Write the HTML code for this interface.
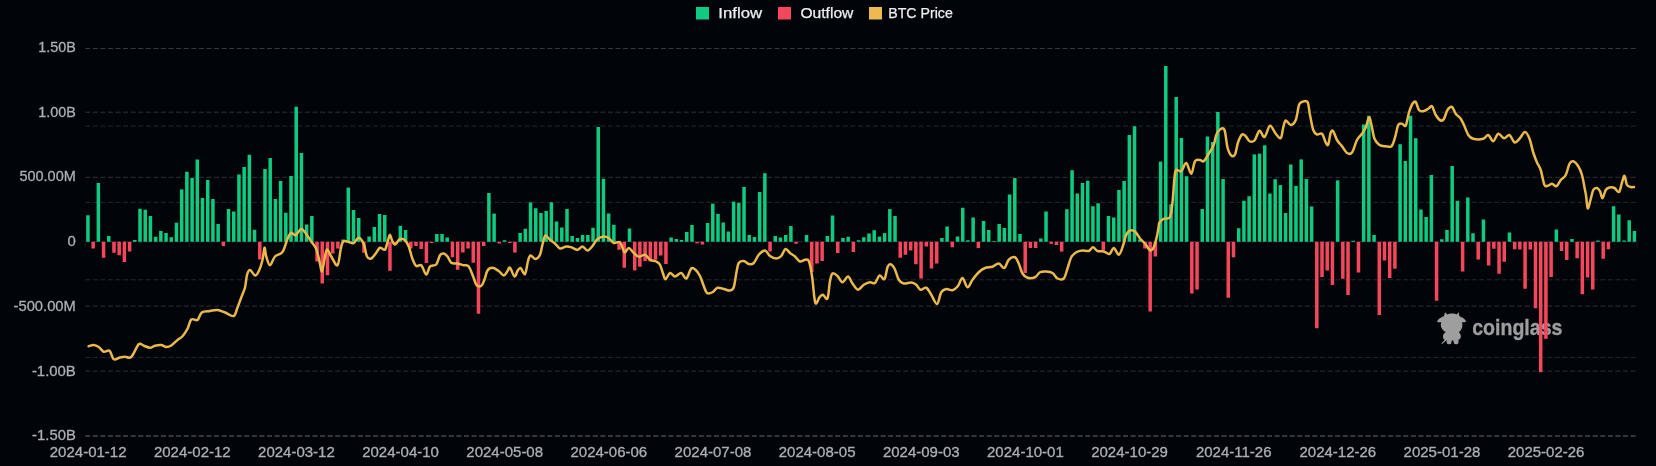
<!DOCTYPE html>
<html><head><meta charset="utf-8"><title>ETF Flows</title>
<style>
html,body{margin:0;padding:0;background:#010409;}
body{width:1656px;height:466px;overflow:hidden;font-family:"Liberation Sans",sans-serif;}
svg{display:block;will-change:transform}
text{font-family:"Liberation Sans",sans-serif;}
</style></head><body>
<svg width="1656" height="466" viewBox="0 0 1656 466">
<g stroke="#2d3137" stroke-width="1" stroke-dasharray="5.05 2.5255" fill="none">
<path d="M85.2 48.50H1635.7" stroke="#363a40"/>
<path d="M85.2 112.20H1635.7"/>
<path d="M85.2 177.30H1635.7"/>
<path d="M85.2 241.80H1635.7"/>
<path d="M85.2 306.10H1635.7"/>
<path d="M85.2 371.10H1635.7"/>
<path d="M85.2 435.90H1635.7" stroke="#33373c" stroke-width="2"/>
<path d="M85.2 126.10H1635.7" stroke="#24282d"/>
<path d="M85.2 202.30H1635.7" stroke="#24282d"/>
<path d="M85.2 279.80H1635.7" stroke="#24282d"/>
<path d="M85.2 357.40H1635.7" stroke="#24282d"/>
</g>
<g stroke="#11151b" stroke-width="1.5">
<path d="M85.40 241.8V247"/>
<path d="M189.54 241.8V247"/>
<path d="M293.68 241.8V247"/>
<path d="M397.82 241.8V247"/>
<path d="M501.96 241.8V247"/>
<path d="M606.10 241.8V247"/>
<path d="M710.24 241.8V247"/>
<path d="M814.38 241.8V247"/>
<path d="M918.52 241.8V247"/>
<path d="M1022.66 241.8V247"/>
<path d="M1126.80 241.8V247"/>
<path d="M1230.94 241.8V247"/>
<path d="M1335.08 241.8V247"/>
<path d="M1439.22 241.8V247"/>
<path d="M1543.36 241.8V247"/>
<path d="M1636.70 241.8V247"/>
</g>
<g id="wm" fill="#a0a0a0" opacity="0.99">
<text x="1472.2" y="334.8" font-size="22.3" font-weight="bold" stroke="#a0a0a0" stroke-width="0.35" stroke-linejoin="round" textLength="90.2" lengthAdjust="spacingAndGlyphs">coinglass</text>
<g transform="translate(1430,306) scale(0.08584)">
<path d="M175 72 L203 98 C230 84 290 84 312 98 L332 70 L343 118 C370 128 395 142 408 160 C420 172 422 190 408 190 L372 190 C385 232 375 275 335 305 C355 318 365 345 356 372 C352 384 342 388 334 386 L330 436 C320 448 290 448 280 440 L272 402 L254 402 L246 440 C236 448 206 448 196 436 L192 398 L150 436 L130 446 L140 428 L172 396 C158 390 148 370 152 345 C155 325 170 312 184 306 C140 280 112 236 132 190 L94 190 C78 190 82 172 95 160 C112 142 138 128 162 120 Z"/>
</g>
</g>
<g fill="#0ecb81">
<rect x="86.20" y="215.25" width="3.5" height="26.50"/>
<rect x="96.61" y="183.00" width="3.5" height="58.75"/>
<rect x="107.03" y="236.00" width="3.5" height="5.75"/>
<rect x="133.06" y="240.00" width="3.5" height="1.75"/>
<rect x="138.27" y="208.75" width="3.5" height="33.00"/>
<rect x="143.48" y="209.75" width="3.5" height="32.00"/>
<rect x="148.68" y="216.00" width="3.5" height="25.75"/>
<rect x="153.89" y="236.75" width="3.5" height="5.00"/>
<rect x="159.10" y="231.00" width="3.5" height="10.75"/>
<rect x="164.31" y="233.00" width="3.5" height="8.75"/>
<rect x="169.51" y="237.25" width="3.5" height="4.50"/>
<rect x="174.72" y="222.75" width="3.5" height="19.00"/>
<rect x="179.93" y="189.40" width="3.5" height="52.35"/>
<rect x="185.13" y="171.75" width="3.5" height="70.00"/>
<rect x="190.34" y="178.00" width="3.5" height="63.75"/>
<rect x="195.55" y="159.50" width="3.5" height="82.25"/>
<rect x="200.75" y="198.00" width="3.5" height="43.75"/>
<rect x="205.96" y="180.00" width="3.5" height="61.75"/>
<rect x="211.17" y="199.00" width="3.5" height="42.75"/>
<rect x="216.38" y="224.00" width="3.5" height="17.75"/>
<rect x="226.79" y="209.00" width="3.5" height="32.75"/>
<rect x="232.00" y="211.50" width="3.5" height="30.25"/>
<rect x="237.20" y="174.50" width="3.5" height="67.25"/>
<rect x="242.41" y="167.00" width="3.5" height="74.75"/>
<rect x="247.62" y="154.75" width="3.5" height="87.00"/>
<rect x="252.82" y="229.75" width="3.5" height="12.00"/>
<rect x="263.24" y="169.00" width="3.5" height="72.75"/>
<rect x="268.44" y="158.00" width="3.5" height="83.75"/>
<rect x="273.65" y="199.00" width="3.5" height="42.75"/>
<rect x="278.86" y="181.00" width="3.5" height="60.75"/>
<rect x="284.07" y="212.75" width="3.5" height="29.00"/>
<rect x="289.27" y="176.00" width="3.5" height="65.75"/>
<rect x="294.48" y="106.75" width="3.5" height="135.00"/>
<rect x="299.69" y="153.00" width="3.5" height="88.75"/>
<rect x="304.89" y="224.50" width="3.5" height="17.25"/>
<rect x="310.10" y="216.00" width="3.5" height="25.75"/>
<rect x="341.34" y="239.50" width="3.5" height="2.25"/>
<rect x="346.55" y="187.60" width="3.5" height="54.15"/>
<rect x="351.76" y="210.00" width="3.5" height="31.75"/>
<rect x="356.96" y="218.00" width="3.5" height="23.75"/>
<rect x="367.38" y="236.50" width="3.5" height="5.25"/>
<rect x="372.58" y="227.00" width="3.5" height="14.75"/>
<rect x="377.79" y="214.00" width="3.5" height="27.75"/>
<rect x="383.00" y="215.00" width="3.5" height="26.75"/>
<rect x="398.62" y="225.75" width="3.5" height="16.00"/>
<rect x="403.83" y="230.00" width="3.5" height="11.75"/>
<rect x="435.07" y="234.00" width="3.5" height="7.75"/>
<rect x="440.28" y="234.00" width="3.5" height="7.75"/>
<rect x="445.48" y="237.50" width="3.5" height="4.25"/>
<rect x="487.14" y="193.00" width="3.5" height="48.75"/>
<rect x="492.35" y="213.60" width="3.5" height="28.15"/>
<rect x="502.76" y="240.25" width="3.5" height="1.50"/>
<rect x="518.38" y="233.00" width="3.5" height="8.75"/>
<rect x="523.59" y="228.75" width="3.5" height="13.00"/>
<rect x="528.79" y="202.40" width="3.5" height="39.35"/>
<rect x="534.00" y="208.25" width="3.5" height="33.50"/>
<rect x="539.21" y="213.00" width="3.5" height="28.75"/>
<rect x="544.42" y="211.00" width="3.5" height="30.75"/>
<rect x="549.62" y="202.25" width="3.5" height="39.50"/>
<rect x="554.83" y="221.50" width="3.5" height="20.25"/>
<rect x="560.04" y="227.50" width="3.5" height="14.25"/>
<rect x="565.24" y="209.00" width="3.5" height="32.75"/>
<rect x="570.45" y="236.00" width="3.5" height="5.75"/>
<rect x="575.66" y="238.00" width="3.5" height="3.75"/>
<rect x="580.87" y="235.00" width="3.5" height="6.75"/>
<rect x="586.07" y="235.00" width="3.5" height="6.75"/>
<rect x="591.28" y="227.75" width="3.5" height="14.00"/>
<rect x="596.49" y="127.00" width="3.5" height="114.75"/>
<rect x="601.69" y="178.75" width="3.5" height="63.00"/>
<rect x="606.90" y="213.50" width="3.5" height="28.25"/>
<rect x="612.11" y="224.75" width="3.5" height="17.00"/>
<rect x="627.73" y="228.50" width="3.5" height="13.25"/>
<rect x="669.38" y="237.50" width="3.5" height="4.25"/>
<rect x="674.59" y="239.00" width="3.5" height="2.75"/>
<rect x="679.80" y="240.00" width="3.5" height="1.75"/>
<rect x="685.00" y="232.00" width="3.5" height="9.75"/>
<rect x="690.21" y="225.00" width="3.5" height="16.75"/>
<rect x="705.83" y="223.00" width="3.5" height="18.75"/>
<rect x="711.04" y="203.60" width="3.5" height="38.15"/>
<rect x="716.25" y="213.90" width="3.5" height="27.85"/>
<rect x="721.45" y="222.50" width="3.5" height="19.25"/>
<rect x="726.66" y="231.50" width="3.5" height="10.25"/>
<rect x="731.87" y="201.60" width="3.5" height="40.15"/>
<rect x="737.08" y="202.90" width="3.5" height="38.85"/>
<rect x="742.28" y="187.00" width="3.5" height="54.75"/>
<rect x="747.49" y="235.00" width="3.5" height="6.75"/>
<rect x="752.70" y="237.00" width="3.5" height="4.75"/>
<rect x="757.90" y="192.00" width="3.5" height="49.75"/>
<rect x="763.11" y="173.25" width="3.5" height="68.50"/>
<rect x="773.52" y="236.00" width="3.5" height="5.75"/>
<rect x="778.73" y="237.50" width="3.5" height="4.25"/>
<rect x="783.94" y="235.00" width="3.5" height="6.75"/>
<rect x="789.14" y="226.00" width="3.5" height="15.75"/>
<rect x="804.77" y="235.00" width="3.5" height="6.75"/>
<rect x="825.59" y="236.00" width="3.5" height="5.75"/>
<rect x="830.80" y="215.50" width="3.5" height="26.25"/>
<rect x="841.22" y="238.00" width="3.5" height="3.75"/>
<rect x="846.42" y="236.75" width="3.5" height="5.00"/>
<rect x="856.84" y="240.25" width="3.5" height="1.50"/>
<rect x="862.04" y="237.25" width="3.5" height="4.50"/>
<rect x="867.25" y="233.50" width="3.5" height="8.25"/>
<rect x="872.46" y="230.25" width="3.5" height="11.50"/>
<rect x="877.66" y="236.60" width="3.5" height="5.15"/>
<rect x="882.87" y="233.10" width="3.5" height="8.65"/>
<rect x="888.08" y="209.10" width="3.5" height="32.65"/>
<rect x="893.28" y="216.00" width="3.5" height="25.75"/>
<rect x="940.15" y="238.00" width="3.5" height="3.75"/>
<rect x="945.36" y="226.50" width="3.5" height="15.25"/>
<rect x="955.77" y="236.50" width="3.5" height="5.25"/>
<rect x="960.98" y="207.75" width="3.5" height="34.00"/>
<rect x="966.18" y="240.25" width="3.5" height="1.50"/>
<rect x="971.39" y="217.50" width="3.5" height="24.25"/>
<rect x="981.80" y="221.00" width="3.5" height="20.75"/>
<rect x="987.01" y="230.00" width="3.5" height="11.75"/>
<rect x="992.22" y="241.00" width="3.5" height="0.75"/>
<rect x="997.43" y="224.00" width="3.5" height="17.75"/>
<rect x="1002.63" y="228.00" width="3.5" height="13.75"/>
<rect x="1007.84" y="194.50" width="3.5" height="47.25"/>
<rect x="1013.05" y="178.00" width="3.5" height="63.75"/>
<rect x="1018.25" y="234.00" width="3.5" height="7.75"/>
<rect x="1039.08" y="238.50" width="3.5" height="3.25"/>
<rect x="1044.29" y="211.50" width="3.5" height="30.25"/>
<rect x="1065.12" y="209.25" width="3.5" height="32.50"/>
<rect x="1070.32" y="170.25" width="3.5" height="71.50"/>
<rect x="1075.53" y="193.50" width="3.5" height="48.25"/>
<rect x="1080.74" y="183.00" width="3.5" height="58.75"/>
<rect x="1085.94" y="180.75" width="3.5" height="61.00"/>
<rect x="1091.15" y="206.25" width="3.5" height="35.50"/>
<rect x="1096.36" y="203.25" width="3.5" height="38.50"/>
<rect x="1106.77" y="216.00" width="3.5" height="25.75"/>
<rect x="1111.98" y="217.50" width="3.5" height="24.25"/>
<rect x="1117.19" y="190.00" width="3.5" height="51.75"/>
<rect x="1122.39" y="181.00" width="3.5" height="60.75"/>
<rect x="1127.60" y="135.00" width="3.5" height="106.75"/>
<rect x="1132.81" y="126.25" width="3.5" height="115.50"/>
<rect x="1138.01" y="239.50" width="3.5" height="2.25"/>
<rect x="1158.84" y="161.60" width="3.5" height="80.15"/>
<rect x="1164.05" y="66.00" width="3.5" height="175.75"/>
<rect x="1169.26" y="204.25" width="3.5" height="37.50"/>
<rect x="1174.46" y="97.00" width="3.5" height="144.75"/>
<rect x="1179.67" y="138.00" width="3.5" height="103.75"/>
<rect x="1184.88" y="176.25" width="3.5" height="65.50"/>
<rect x="1200.50" y="209.00" width="3.5" height="32.75"/>
<rect x="1205.70" y="136.50" width="3.5" height="105.25"/>
<rect x="1210.91" y="142.00" width="3.5" height="99.75"/>
<rect x="1216.12" y="112.00" width="3.5" height="129.75"/>
<rect x="1221.33" y="179.00" width="3.5" height="62.75"/>
<rect x="1236.95" y="228.25" width="3.5" height="13.50"/>
<rect x="1242.15" y="200.75" width="3.5" height="41.00"/>
<rect x="1247.36" y="196.25" width="3.5" height="45.50"/>
<rect x="1252.57" y="154.40" width="3.5" height="87.35"/>
<rect x="1257.78" y="153.60" width="3.5" height="88.15"/>
<rect x="1262.98" y="145.30" width="3.5" height="96.45"/>
<rect x="1268.19" y="193.50" width="3.5" height="48.25"/>
<rect x="1273.40" y="179.25" width="3.5" height="62.50"/>
<rect x="1278.60" y="185.10" width="3.5" height="56.65"/>
<rect x="1283.81" y="213.00" width="3.5" height="28.75"/>
<rect x="1289.02" y="164.50" width="3.5" height="77.25"/>
<rect x="1294.22" y="186.00" width="3.5" height="55.75"/>
<rect x="1299.43" y="159.40" width="3.5" height="82.35"/>
<rect x="1304.64" y="179.00" width="3.5" height="62.75"/>
<rect x="1309.85" y="206.50" width="3.5" height="35.25"/>
<rect x="1335.88" y="180.40" width="3.5" height="61.35"/>
<rect x="1351.50" y="240.75" width="3.5" height="1.00"/>
<rect x="1361.91" y="124.50" width="3.5" height="117.25"/>
<rect x="1367.12" y="115.75" width="3.5" height="126.00"/>
<rect x="1372.33" y="235.00" width="3.5" height="6.75"/>
<rect x="1398.36" y="144.25" width="3.5" height="97.50"/>
<rect x="1403.57" y="161.00" width="3.5" height="80.75"/>
<rect x="1408.78" y="115.75" width="3.5" height="126.00"/>
<rect x="1413.98" y="138.25" width="3.5" height="103.50"/>
<rect x="1419.19" y="209.50" width="3.5" height="32.25"/>
<rect x="1424.40" y="217.00" width="3.5" height="24.75"/>
<rect x="1429.61" y="175.00" width="3.5" height="66.75"/>
<rect x="1440.02" y="239.25" width="3.5" height="2.50"/>
<rect x="1445.23" y="230.00" width="3.5" height="11.75"/>
<rect x="1450.43" y="166.00" width="3.5" height="75.75"/>
<rect x="1455.64" y="200.75" width="3.5" height="41.00"/>
<rect x="1466.06" y="197.50" width="3.5" height="44.25"/>
<rect x="1471.26" y="233.25" width="3.5" height="8.50"/>
<rect x="1481.68" y="219.50" width="3.5" height="22.25"/>
<rect x="1507.71" y="232.50" width="3.5" height="9.25"/>
<rect x="1554.57" y="229.50" width="3.5" height="12.25"/>
<rect x="1570.19" y="239.00" width="3.5" height="2.75"/>
<rect x="1596.23" y="240.50" width="3.5" height="1.25"/>
<rect x="1611.85" y="206.25" width="3.5" height="35.50"/>
<rect x="1617.06" y="214.50" width="3.5" height="27.25"/>
<rect x="1622.27" y="240.50" width="3.5" height="1.25"/>
<rect x="1627.47" y="220.25" width="3.5" height="21.50"/>
<rect x="1632.68" y="231.00" width="3.5" height="10.75"/>
</g>
<g fill="#f6465d">
<rect x="91.41" y="241.75" width="3.5" height="6.75"/>
<rect x="101.82" y="241.75" width="3.5" height="16.00"/>
<rect x="112.23" y="241.75" width="3.5" height="11.00"/>
<rect x="117.44" y="241.75" width="3.5" height="13.50"/>
<rect x="122.65" y="241.75" width="3.5" height="20.25"/>
<rect x="127.86" y="241.75" width="3.5" height="9.75"/>
<rect x="221.58" y="241.75" width="3.5" height="4.25"/>
<rect x="258.03" y="241.75" width="3.5" height="17.75"/>
<rect x="315.31" y="241.75" width="3.5" height="19.75"/>
<rect x="320.51" y="241.75" width="3.5" height="41.75"/>
<rect x="325.72" y="241.75" width="3.5" height="33.50"/>
<rect x="330.93" y="241.75" width="3.5" height="11.75"/>
<rect x="336.14" y="241.75" width="3.5" height="6.75"/>
<rect x="362.17" y="241.75" width="3.5" height="11.00"/>
<rect x="388.21" y="241.75" width="3.5" height="29.00"/>
<rect x="393.41" y="241.75" width="3.5" height="2.25"/>
<rect x="409.03" y="241.75" width="3.5" height="6.75"/>
<rect x="414.24" y="241.75" width="3.5" height="4.25"/>
<rect x="419.45" y="241.75" width="3.5" height="7.25"/>
<rect x="424.65" y="241.75" width="3.5" height="21.25"/>
<rect x="429.86" y="241.75" width="3.5" height="1.25"/>
<rect x="450.69" y="241.75" width="3.5" height="15.50"/>
<rect x="455.90" y="241.75" width="3.5" height="28.00"/>
<rect x="461.10" y="241.75" width="3.5" height="10.75"/>
<rect x="466.31" y="241.75" width="3.5" height="6.75"/>
<rect x="471.52" y="241.75" width="3.5" height="21.00"/>
<rect x="476.72" y="241.75" width="3.5" height="72.00"/>
<rect x="481.93" y="241.75" width="3.5" height="4.25"/>
<rect x="497.55" y="241.75" width="3.5" height="1.75"/>
<rect x="507.97" y="241.75" width="3.5" height="1.25"/>
<rect x="513.17" y="241.75" width="3.5" height="10.75"/>
<rect x="617.31" y="241.75" width="3.5" height="8.00"/>
<rect x="622.52" y="241.75" width="3.5" height="26.00"/>
<rect x="632.94" y="241.75" width="3.5" height="28.75"/>
<rect x="638.14" y="241.75" width="3.5" height="25.00"/>
<rect x="643.35" y="241.75" width="3.5" height="19.25"/>
<rect x="648.56" y="241.75" width="3.5" height="19.75"/>
<rect x="653.76" y="241.75" width="3.5" height="18.00"/>
<rect x="658.97" y="241.75" width="3.5" height="13.75"/>
<rect x="664.18" y="241.75" width="3.5" height="22.25"/>
<rect x="695.42" y="241.75" width="3.5" height="1.55"/>
<rect x="700.63" y="241.75" width="3.5" height="2.75"/>
<rect x="768.32" y="241.75" width="3.5" height="9.75"/>
<rect x="794.35" y="241.75" width="3.5" height="2.00"/>
<rect x="809.97" y="241.75" width="3.5" height="30.25"/>
<rect x="815.18" y="241.75" width="3.5" height="21.75"/>
<rect x="820.39" y="241.75" width="3.5" height="19.25"/>
<rect x="836.01" y="241.75" width="3.5" height="11.25"/>
<rect x="851.63" y="241.75" width="3.5" height="10.25"/>
<rect x="898.49" y="241.75" width="3.5" height="16.00"/>
<rect x="903.70" y="241.75" width="3.5" height="13.00"/>
<rect x="908.91" y="241.75" width="3.5" height="8.75"/>
<rect x="914.11" y="241.75" width="3.5" height="22.50"/>
<rect x="919.32" y="241.75" width="3.5" height="36.75"/>
<rect x="924.53" y="241.75" width="3.5" height="4.75"/>
<rect x="929.73" y="241.75" width="3.5" height="26.75"/>
<rect x="934.94" y="241.75" width="3.5" height="21.75"/>
<rect x="950.56" y="241.75" width="3.5" height="5.50"/>
<rect x="976.60" y="241.75" width="3.5" height="6.35"/>
<rect x="1023.46" y="241.75" width="3.5" height="31.25"/>
<rect x="1028.67" y="241.75" width="3.5" height="6.25"/>
<rect x="1033.87" y="241.75" width="3.5" height="6.25"/>
<rect x="1049.49" y="241.75" width="3.5" height="2.05"/>
<rect x="1054.70" y="241.75" width="3.5" height="3.25"/>
<rect x="1059.91" y="241.75" width="3.5" height="9.85"/>
<rect x="1101.57" y="241.75" width="3.5" height="8.50"/>
<rect x="1143.22" y="241.75" width="3.5" height="6.75"/>
<rect x="1148.43" y="241.75" width="3.5" height="69.75"/>
<rect x="1153.63" y="241.75" width="3.5" height="14.75"/>
<rect x="1190.08" y="241.75" width="3.5" height="51.75"/>
<rect x="1195.29" y="241.75" width="3.5" height="47.75"/>
<rect x="1226.53" y="241.75" width="3.5" height="56.00"/>
<rect x="1231.74" y="241.75" width="3.5" height="15.50"/>
<rect x="1315.05" y="241.75" width="3.5" height="86.50"/>
<rect x="1320.26" y="241.75" width="3.5" height="35.25"/>
<rect x="1325.47" y="241.75" width="3.5" height="28.75"/>
<rect x="1330.67" y="241.75" width="3.5" height="43.25"/>
<rect x="1341.09" y="241.75" width="3.5" height="37.00"/>
<rect x="1346.29" y="241.75" width="3.5" height="53.25"/>
<rect x="1356.71" y="241.75" width="3.5" height="30.75"/>
<rect x="1377.54" y="241.75" width="3.5" height="73.25"/>
<rect x="1382.74" y="241.75" width="3.5" height="18.75"/>
<rect x="1387.95" y="241.75" width="3.5" height="36.25"/>
<rect x="1393.16" y="241.75" width="3.5" height="27.00"/>
<rect x="1434.81" y="241.75" width="3.5" height="59.00"/>
<rect x="1460.85" y="241.75" width="3.5" height="29.75"/>
<rect x="1476.47" y="241.75" width="3.5" height="17.75"/>
<rect x="1486.88" y="241.75" width="3.5" height="23.75"/>
<rect x="1492.09" y="241.75" width="3.5" height="7.00"/>
<rect x="1497.30" y="241.75" width="3.5" height="32.00"/>
<rect x="1502.50" y="241.75" width="3.5" height="20.00"/>
<rect x="1512.92" y="241.75" width="3.5" height="7.50"/>
<rect x="1518.12" y="241.75" width="3.5" height="7.75"/>
<rect x="1523.33" y="241.75" width="3.5" height="47.00"/>
<rect x="1528.54" y="241.75" width="3.5" height="7.75"/>
<rect x="1533.75" y="241.75" width="3.5" height="66.50"/>
<rect x="1538.95" y="241.75" width="3.5" height="130.45"/>
<rect x="1544.16" y="241.75" width="3.5" height="97.05"/>
<rect x="1549.37" y="241.75" width="3.5" height="35.25"/>
<rect x="1559.78" y="241.75" width="3.5" height="9.25"/>
<rect x="1564.99" y="241.75" width="3.5" height="18.25"/>
<rect x="1575.40" y="241.75" width="3.5" height="16.50"/>
<rect x="1580.61" y="241.75" width="3.5" height="52.50"/>
<rect x="1585.82" y="241.75" width="3.5" height="35.75"/>
<rect x="1591.02" y="241.75" width="3.5" height="47.75"/>
<rect x="1601.44" y="241.75" width="3.5" height="17.00"/>
<rect x="1606.64" y="241.75" width="3.5" height="7.50"/>
</g>
<path d="M88.60 346.20C89.46 346.00 92.06 344.87 93.75 345.00C95.44 345.13 97.08 345.88 98.75 347.00C100.42 348.12 101.96 351.12 103.75 351.75C105.54 352.38 107.83 349.50 109.50 350.75C111.17 352.00 112.00 358.12 113.75 359.25C115.50 360.38 118.12 357.92 120.00 357.50C121.88 357.08 123.12 356.83 125.00 356.75C126.88 356.67 128.96 359.08 131.25 357.00C133.54 354.92 136.67 346.12 138.75 344.25C140.83 342.38 141.88 345.17 143.75 345.75C145.62 346.33 148.12 347.75 150.00 347.75C151.88 347.75 153.12 346.21 155.00 345.75C156.88 345.29 159.38 344.79 161.25 345.00C163.12 345.21 164.58 346.92 166.25 347.00C167.92 347.08 169.38 346.67 171.25 345.50C173.12 344.33 175.62 341.54 177.50 340.00C179.38 338.46 180.83 338.12 182.50 336.25C184.17 334.38 186.04 331.54 187.50 328.75C188.96 325.96 189.58 320.96 191.25 319.50C192.92 318.04 195.75 321.17 197.50 320.00C199.25 318.83 199.67 314.00 201.75 312.50C203.83 311.00 207.38 311.42 210.00 311.00C212.62 310.58 215.00 309.75 217.50 310.00C220.00 310.25 222.29 311.50 225.00 312.50C227.71 313.50 231.67 316.83 233.75 316.00C235.83 315.17 236.25 310.58 237.50 307.50C238.75 304.42 240.00 300.83 241.25 297.50C242.50 294.17 244.04 291.25 245.00 287.50C245.96 283.75 246.17 277.92 247.00 275.00C247.83 272.08 248.67 269.92 250.00 270.00C251.33 270.08 253.54 275.29 255.00 275.50C256.46 275.71 257.50 273.83 258.75 271.25C260.00 268.67 261.54 263.92 262.50 260.00C263.46 256.08 263.88 248.33 264.50 247.75C265.12 247.17 265.33 253.58 266.25 256.50C267.17 259.42 268.54 265.25 270.00 265.25C271.46 265.25 272.92 258.71 275.00 256.50C277.08 254.29 280.42 254.92 282.50 252.00C284.58 249.08 286.04 242.21 287.50 239.00C288.96 235.79 289.92 233.38 291.25 232.75C292.58 232.12 293.83 235.88 295.50 235.25C297.17 234.62 299.46 229.21 301.25 229.00C303.04 228.79 304.58 231.92 306.25 234.00C307.92 236.08 309.58 239.00 311.25 241.50C312.92 244.00 314.88 245.67 316.25 249.00C317.62 252.33 318.54 257.75 319.50 261.50C320.46 265.25 321.17 271.92 322.00 271.50C322.83 271.08 323.67 262.67 324.50 259.00C325.33 255.33 325.88 249.92 327.00 249.50C328.12 249.08 329.50 253.88 331.25 256.50C333.00 259.12 335.92 266.50 337.50 265.25C339.08 264.00 339.79 252.96 340.75 249.00C341.71 245.04 341.92 242.67 343.25 241.50C344.58 240.33 347.00 241.75 348.75 242.00C350.50 242.25 352.08 243.71 353.75 243.00C355.42 242.29 357.08 237.58 358.75 237.75C360.42 237.92 362.38 240.88 363.75 244.00C365.12 247.12 365.75 254.08 367.00 256.50C368.25 258.92 369.71 259.12 371.25 258.50C372.79 257.88 374.79 254.54 376.25 252.75C377.71 250.96 378.54 248.29 380.00 247.75C381.46 247.21 383.67 250.75 385.00 249.50C386.33 248.25 387.17 242.71 388.00 240.25C388.83 237.79 389.33 234.75 390.00 234.75C390.67 234.75 391.17 238.62 392.00 240.25C392.83 241.88 393.67 244.71 395.00 244.50C396.33 244.29 398.33 239.71 400.00 239.00C401.67 238.29 403.54 239.00 405.00 240.25C406.46 241.50 407.50 243.38 408.75 246.50C410.00 249.62 411.25 255.75 412.50 259.00C413.75 262.25 414.79 264.96 416.25 266.00C417.71 267.04 419.58 263.83 421.25 265.25C422.92 266.67 424.79 274.29 426.25 274.50C427.71 274.71 428.33 268.17 430.00 266.50C431.67 264.83 434.58 266.38 436.25 264.50C437.92 262.62 438.75 257.08 440.00 255.25C441.25 253.42 442.50 253.29 443.75 253.50C445.00 253.71 446.25 254.96 447.50 256.50C448.75 258.04 449.58 261.58 451.25 262.75C452.92 263.92 455.42 263.08 457.50 263.50C459.58 263.92 461.88 264.75 463.75 265.25C465.62 265.75 467.12 264.46 468.75 266.50C470.38 268.54 472.26 274.48 473.50 277.50C474.74 280.52 475.28 283.12 476.20 284.60C477.12 286.08 478.03 286.33 479.00 286.40C479.97 286.47 481.07 286.18 482.00 285.00C482.93 283.82 483.68 281.72 484.60 279.30C485.52 276.88 486.18 272.43 487.50 270.50C488.82 268.57 490.62 267.67 492.50 267.75C494.38 267.83 496.88 269.71 498.75 271.00C500.62 272.29 502.29 275.50 503.75 275.50C505.21 275.50 506.46 272.29 507.50 271.00C508.54 269.71 508.83 266.83 510.00 267.75C511.17 268.67 513.25 275.96 514.50 276.50C515.75 277.04 516.50 272.42 517.50 271.00C518.50 269.58 519.25 267.50 520.50 268.00C521.75 268.50 523.75 275.17 525.00 274.00C526.25 272.83 527.08 264.08 528.00 261.00C528.92 257.92 529.25 255.83 530.50 255.50C531.75 255.17 533.92 259.12 535.50 259.00C537.08 258.88 538.75 257.54 540.00 254.75C541.25 251.96 542.08 245.46 543.00 242.25C543.92 239.04 544.33 235.92 545.50 235.50C546.67 235.08 548.42 238.42 550.00 239.75C551.58 241.08 553.33 242.04 555.00 243.50C556.67 244.96 558.12 248.00 560.00 248.50C561.88 249.00 564.38 246.71 566.25 246.50C568.12 246.29 569.38 246.71 571.25 247.25C573.12 247.79 575.62 249.88 577.50 249.75C579.38 249.62 580.83 246.38 582.50 246.50C584.17 246.62 585.83 250.58 587.50 250.50C589.17 250.42 590.83 247.92 592.50 246.00C594.17 244.08 595.62 240.58 597.50 239.00C599.38 237.42 601.88 236.67 603.75 236.50C605.62 236.33 607.08 236.92 608.75 238.00C610.42 239.08 611.88 242.29 613.75 243.00C615.62 243.71 618.21 240.71 620.00 242.25C621.79 243.79 623.04 251.29 624.50 252.25C625.96 253.21 627.21 247.88 628.75 248.00C630.29 248.12 632.08 251.54 633.75 253.00C635.42 254.46 636.88 256.46 638.75 256.75C640.62 257.04 643.12 254.25 645.00 254.75C646.88 255.25 648.12 258.62 650.00 259.75C651.88 260.88 654.58 260.67 656.25 261.50C657.92 262.33 658.88 262.75 660.00 264.75C661.12 266.75 662.08 271.08 663.00 273.50C663.92 275.92 664.33 279.33 665.50 279.25C666.67 279.17 668.42 273.46 670.00 273.00C671.58 272.54 673.12 276.50 675.00 276.50C676.88 276.50 679.38 272.67 681.25 273.00C683.12 273.33 684.58 279.25 686.25 278.50C687.92 277.75 689.71 269.96 691.25 268.50C692.79 267.04 694.04 268.50 695.50 269.75C696.96 271.00 698.62 273.29 700.00 276.00C701.38 278.71 702.58 283.17 703.75 286.00C704.92 288.83 705.54 291.96 707.00 293.00C708.46 294.04 710.75 293.12 712.50 292.25C714.25 291.38 715.62 288.29 717.50 287.75C719.38 287.21 721.67 288.54 723.75 289.00C725.83 289.46 728.33 290.79 730.00 290.50C731.67 290.21 732.71 290.08 733.75 287.25C734.79 284.42 735.42 277.54 736.25 273.50C737.08 269.46 737.50 265.08 738.75 263.00C740.00 260.92 742.08 260.83 743.75 261.00C745.42 261.17 747.08 263.67 748.75 264.00C750.42 264.33 752.08 264.54 753.75 263.00C755.42 261.46 756.88 256.83 758.75 254.75C760.62 252.67 763.12 250.29 765.00 250.50C766.88 250.71 768.12 254.67 770.00 256.00C771.88 257.33 774.38 258.50 776.25 258.50C778.12 258.50 779.71 257.58 781.25 256.00C782.79 254.42 784.04 249.50 785.50 249.00C786.96 248.50 788.42 251.75 790.00 253.00C791.58 254.25 793.33 255.08 795.00 256.50C796.67 257.92 798.33 260.96 800.00 261.50C801.67 262.04 803.54 259.83 805.00 259.75C806.46 259.67 807.58 258.29 808.75 261.00C809.92 263.71 811.04 269.75 812.00 276.00C812.96 282.25 813.79 293.92 814.50 298.50C815.21 303.08 815.42 303.71 816.25 303.50C817.08 303.29 818.38 298.71 819.50 297.25C820.62 295.79 821.67 294.54 823.00 294.75C824.33 294.96 826.33 300.79 827.50 298.50C828.67 296.21 829.17 285.17 830.00 281.00C830.83 276.83 831.25 274.33 832.50 273.50C833.75 272.67 835.83 274.54 837.50 276.00C839.17 277.46 840.75 282.17 842.50 282.25C844.25 282.33 846.33 276.29 848.00 276.50C849.67 276.71 850.83 281.29 852.50 283.50C854.17 285.71 856.12 289.54 858.00 289.75C859.88 289.96 861.75 286.00 863.75 284.75C865.75 283.50 868.12 282.54 870.00 282.25C871.88 281.96 873.42 284.12 875.00 283.00C876.58 281.88 877.92 276.17 879.50 275.50C881.08 274.83 883.17 280.38 884.50 279.00C885.83 277.62 886.50 269.71 887.50 267.25C888.50 264.79 889.33 264.04 890.50 264.25C891.67 264.46 893.12 265.92 894.50 268.50C895.88 271.08 897.21 277.25 898.75 279.75C900.29 282.25 901.67 283.04 903.75 283.50C905.83 283.96 909.17 282.29 911.25 282.50C913.33 282.71 914.71 283.54 916.25 284.75C917.79 285.96 918.83 289.25 920.50 289.75C922.17 290.25 924.46 286.92 926.25 287.75C928.04 288.58 929.46 292.04 931.25 294.75C933.04 297.46 935.33 304.42 937.00 304.00C938.67 303.58 939.71 294.75 941.25 292.25C942.79 289.75 944.38 289.33 946.25 289.00C948.12 288.67 950.54 290.75 952.50 290.25C954.46 289.75 956.33 288.04 958.00 286.00C959.67 283.96 960.92 277.79 962.50 278.00C964.08 278.21 965.83 286.96 967.50 287.25C969.17 287.54 970.62 282.25 972.50 279.75C974.38 277.25 976.67 274.21 978.75 272.25C980.83 270.29 982.71 268.92 985.00 268.00C987.29 267.08 990.21 267.50 992.50 266.75C994.79 266.00 996.79 263.29 998.75 263.50C1000.71 263.71 1002.58 268.62 1004.25 268.00C1005.92 267.38 1006.96 261.54 1008.75 259.75C1010.54 257.96 1013.33 256.62 1015.00 257.25C1016.67 257.88 1017.50 260.79 1018.75 263.50C1020.00 266.21 1021.04 271.12 1022.50 273.50C1023.96 275.88 1025.42 277.12 1027.50 277.75C1029.58 278.38 1032.92 278.17 1035.00 277.25C1037.08 276.33 1038.12 273.21 1040.00 272.25C1041.88 271.29 1044.17 271.38 1046.25 271.50C1048.33 271.62 1050.62 271.83 1052.50 273.00C1054.38 274.17 1055.62 277.58 1057.50 278.50C1059.38 279.42 1062.08 280.17 1063.75 278.50C1065.42 276.83 1066.25 272.04 1067.50 268.50C1068.75 264.96 1069.79 259.96 1071.25 257.25C1072.71 254.54 1074.38 253.38 1076.25 252.25C1078.12 251.12 1080.42 250.71 1082.50 250.50C1084.58 250.29 1087.00 251.54 1088.75 251.00C1090.50 250.46 1091.54 247.25 1093.00 247.25C1094.46 247.25 1095.71 250.29 1097.50 251.00C1099.29 251.71 1101.75 251.00 1103.75 251.50C1105.75 252.00 1107.83 254.58 1109.50 254.00C1111.17 253.42 1112.21 247.88 1113.75 248.00C1115.29 248.12 1117.29 254.88 1118.75 254.75C1120.21 254.62 1121.25 250.58 1122.50 247.25C1123.75 243.92 1125.00 237.54 1126.25 234.75C1127.50 231.96 1128.54 231.04 1130.00 230.50C1131.46 229.96 1133.33 230.17 1135.00 231.50C1136.67 232.83 1138.33 236.50 1140.00 238.50C1141.67 240.50 1143.33 241.54 1145.00 243.50C1146.67 245.46 1148.54 249.62 1150.00 250.25C1151.46 250.88 1152.58 249.62 1153.75 247.25C1154.92 244.88 1156.17 239.54 1157.00 236.00C1157.83 232.46 1158.33 228.25 1158.75 226.00C1159.17 223.75 1158.67 223.71 1159.50 222.50C1160.33 221.29 1162.00 219.67 1163.75 218.75C1165.50 217.83 1168.54 219.71 1170.00 217.00C1171.46 214.29 1171.75 209.08 1172.50 202.50C1173.25 195.92 1173.88 182.92 1174.50 177.50C1175.12 172.08 1175.12 171.04 1176.25 170.00C1177.38 168.96 1179.58 172.42 1181.25 171.25C1182.92 170.08 1184.58 162.58 1186.25 163.00C1187.92 163.42 1189.79 174.04 1191.25 173.75C1192.71 173.46 1193.54 163.54 1195.00 161.25C1196.46 158.96 1198.54 160.00 1200.00 160.00C1201.46 160.00 1202.29 162.29 1203.75 161.25C1205.21 160.21 1207.08 156.46 1208.75 153.75C1210.42 151.04 1212.50 148.12 1213.75 145.00C1215.00 141.88 1215.21 137.58 1216.25 135.00C1217.29 132.42 1218.62 130.33 1220.00 129.50C1221.38 128.67 1223.25 127.00 1224.50 130.00C1225.75 133.00 1226.38 143.25 1227.50 147.50C1228.62 151.75 1230.00 154.33 1231.25 155.50C1232.50 156.67 1233.88 156.67 1235.00 154.50C1236.12 152.33 1236.83 145.83 1238.00 142.50C1239.17 139.17 1240.71 135.54 1242.00 134.50C1243.29 133.46 1244.50 135.12 1245.75 136.25C1247.00 137.38 1248.04 140.54 1249.50 141.25C1250.96 141.96 1252.83 142.25 1254.50 140.50C1256.17 138.75 1257.83 131.33 1259.50 130.75C1261.17 130.17 1262.75 137.83 1264.50 137.00C1266.25 136.17 1268.12 126.29 1270.00 125.75C1271.88 125.21 1273.96 131.71 1275.75 133.75C1277.54 135.79 1279.50 139.04 1280.75 138.00C1282.00 136.96 1282.42 130.42 1283.25 127.50C1284.08 124.58 1284.50 120.92 1285.75 120.50C1287.00 120.08 1289.08 125.08 1290.75 125.00C1292.42 124.92 1294.38 123.33 1295.75 120.00C1297.12 116.67 1297.96 108.00 1299.00 105.00C1300.04 102.00 1300.58 102.50 1302.00 102.00C1303.42 101.50 1306.17 99.83 1307.50 102.00C1308.83 104.17 1309.04 110.33 1310.00 115.00C1310.96 119.67 1312.08 126.75 1313.25 130.00C1314.42 133.25 1315.54 133.88 1317.00 134.50C1318.46 135.12 1320.54 132.42 1322.00 133.75C1323.46 135.08 1324.71 140.71 1325.75 142.50C1326.79 144.29 1327.42 146.17 1328.25 144.50C1329.08 142.83 1329.92 134.71 1330.75 132.50C1331.58 130.29 1332.21 130.00 1333.25 131.25C1334.29 132.50 1335.54 137.50 1337.00 140.00C1338.46 142.50 1340.33 144.08 1342.00 146.25C1343.67 148.42 1345.33 151.96 1347.00 153.00C1348.67 154.04 1350.33 154.67 1352.00 152.50C1353.67 150.33 1355.33 143.12 1357.00 140.00C1358.67 136.88 1360.54 135.83 1362.00 133.75C1363.46 131.67 1364.58 130.21 1365.75 127.50C1366.92 124.79 1368.04 117.92 1369.00 117.50C1369.96 117.08 1370.58 121.46 1371.50 125.00C1372.42 128.54 1373.17 135.42 1374.50 138.75C1375.83 142.08 1377.62 143.75 1379.50 145.00C1381.38 146.25 1383.75 146.04 1385.75 146.25C1387.75 146.46 1389.96 147.71 1391.50 146.25C1393.04 144.79 1393.88 141.04 1395.00 137.50C1396.12 133.96 1397.08 127.29 1398.25 125.00C1399.42 122.71 1400.75 123.67 1402.00 123.75C1403.25 123.83 1404.58 127.38 1405.75 125.50C1406.92 123.62 1407.88 116.12 1409.00 112.50C1410.12 108.88 1411.38 105.50 1412.50 103.75C1413.62 102.00 1414.67 100.96 1415.75 102.00C1416.83 103.04 1417.75 108.46 1419.00 110.00C1420.25 111.54 1421.71 111.46 1423.25 111.25C1424.79 111.04 1426.79 109.58 1428.25 108.75C1429.71 107.92 1430.75 105.21 1432.00 106.25C1433.25 107.29 1434.29 112.62 1435.75 115.00C1437.21 117.38 1439.38 119.88 1440.75 120.50C1442.12 121.12 1442.88 120.50 1444.00 118.75C1445.12 117.00 1446.17 111.96 1447.50 110.00C1448.83 108.04 1450.62 106.38 1452.00 107.00C1453.38 107.62 1454.29 111.79 1455.75 113.75C1457.21 115.71 1459.29 116.67 1460.75 118.75C1462.21 120.83 1463.25 123.54 1464.50 126.25C1465.75 128.96 1466.79 132.92 1468.25 135.00C1469.71 137.08 1470.75 138.12 1473.25 138.75C1475.75 139.38 1480.75 139.38 1483.25 138.75C1485.75 138.12 1486.58 134.58 1488.25 135.00C1489.92 135.42 1491.58 141.46 1493.25 141.25C1494.92 141.04 1496.46 134.25 1498.25 133.75C1500.04 133.25 1502.12 138.04 1504.00 138.25C1505.88 138.46 1507.75 134.29 1509.50 135.00C1511.25 135.71 1512.83 141.88 1514.50 142.50C1516.17 143.12 1517.75 140.50 1519.50 138.75C1521.25 137.00 1523.33 132.00 1525.00 132.00C1526.67 132.00 1528.12 135.33 1529.50 138.75C1530.88 142.17 1532.00 148.54 1533.25 152.50C1534.50 156.46 1535.75 159.58 1537.00 162.50C1538.25 165.42 1539.50 166.25 1540.75 170.00C1542.00 173.75 1543.25 182.42 1544.50 185.00C1545.75 187.58 1547.00 185.71 1548.25 185.50C1549.50 185.29 1550.62 183.62 1552.00 183.75C1553.38 183.88 1555.04 186.88 1556.50 186.25C1557.96 185.62 1559.21 181.88 1560.75 180.00C1562.29 178.12 1564.29 177.71 1565.75 175.00C1567.21 172.29 1568.25 166.04 1569.50 163.75C1570.75 161.46 1571.79 160.83 1573.25 161.25C1574.71 161.67 1576.79 163.96 1578.25 166.25C1579.71 168.54 1580.96 171.46 1582.00 175.00C1583.04 178.54 1583.82 184.00 1584.50 187.50C1585.18 191.00 1585.57 192.53 1586.10 196.00C1586.63 199.47 1586.97 207.63 1587.70 208.30C1588.43 208.97 1589.58 203.05 1590.50 200.00C1591.42 196.95 1592.17 192.00 1593.25 190.00C1594.33 188.00 1595.88 187.79 1597.00 188.00C1598.12 188.21 1599.08 189.54 1600.00 191.25C1600.92 192.96 1601.54 198.46 1602.50 198.25C1603.46 198.04 1604.58 191.79 1605.75 190.00C1606.92 188.21 1608.04 187.83 1609.50 187.50C1610.96 187.17 1612.92 187.25 1614.50 188.00C1616.08 188.75 1617.75 192.92 1619.00 192.00C1620.25 191.08 1621.08 185.21 1622.00 182.50C1622.92 179.79 1623.67 175.33 1624.50 175.75C1625.33 176.17 1625.96 183.12 1627.00 185.00C1628.04 186.88 1629.58 186.67 1630.75 187.00C1631.92 187.33 1633.46 187.00 1634.00 187.00" fill="none" stroke="#ebb84b" stroke-width="2.5" stroke-linejoin="round" stroke-linecap="round"/>
<g fill="#aeb2b8" stroke="#aeb2b8" stroke-width="0.32" font-size="15" text-anchor="end" opacity="0.99">
<text x="75.8" y="52.0" textLength="37.5" lengthAdjust="spacingAndGlyphs">1.50B</text>
<text x="75.8" y="117.0" textLength="37.5" lengthAdjust="spacingAndGlyphs">1.00B</text>
<text x="75.8" y="181.4" textLength="56.4" lengthAdjust="spacingAndGlyphs">500.00M</text>
<text x="75.8" y="246.1" textLength="8.3" lengthAdjust="spacingAndGlyphs">0</text>
<text x="75.8" y="311.2" textLength="62.2" lengthAdjust="spacingAndGlyphs">-500.00M</text>
<text x="75.8" y="375.5" textLength="43.9" lengthAdjust="spacingAndGlyphs">-1.00B</text>
<text x="75.8" y="440.0" textLength="43.7" lengthAdjust="spacingAndGlyphs">-1.50B</text>
</g>
<g fill="#aeb2b8" stroke="#aeb2b8" stroke-width="0.32" font-size="15" text-anchor="middle" opacity="0.99">
<text x="88.15" y="457.0">2024-01-12</text>
<text x="192.29" y="457.0">2024-02-12</text>
<text x="296.43" y="457.0">2024-03-12</text>
<text x="400.57" y="457.0">2024-04-10</text>
<text x="504.71" y="457.0">2024-05-08</text>
<text x="608.85" y="457.0">2024-06-06</text>
<text x="712.99" y="457.0">2024-07-08</text>
<text x="817.13" y="457.0">2024-08-05</text>
<text x="921.27" y="457.0">2024-09-03</text>
<text x="1025.41" y="457.0">2024-10-01</text>
<text x="1129.55" y="457.0">2024-10-29</text>
<text x="1233.69" y="457.0">2024-11-26</text>
<text x="1337.83" y="457.0">2024-12-26</text>
<text x="1441.97" y="457.0">2025-01-28</text>
<text x="1546.11" y="457.0">2025-02-26</text>
</g>
<g>
<rect x="696" y="7" width="13" height="12.5" fill="#0ecb81"/>
<rect x="778" y="7" width="13" height="12.5" fill="#f6465d"/>
<rect x="869" y="7" width="13" height="12.5" fill="#ecba4e"/>
</g>
<g fill="#f0f1f3" stroke="#f0f1f3" stroke-width="0.25" font-size="14.5" opacity="0.99">
<text x="718.3" y="18.1" textLength="43.8" lengthAdjust="spacingAndGlyphs">Inflow</text>
<text x="800.4" y="18.1" textLength="53" lengthAdjust="spacingAndGlyphs">Outflow</text>
<text x="888.2" y="18.1" textLength="64.6" lengthAdjust="spacingAndGlyphs">BTC Price</text>
</g>
</svg>
</body></html>
